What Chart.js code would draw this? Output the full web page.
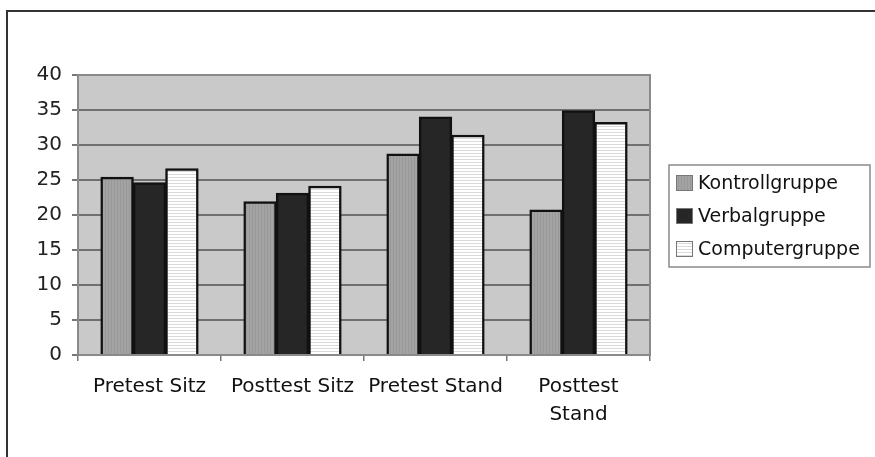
<!DOCTYPE html>
<html>
<head>
<meta charset="utf-8">
<script src="https://cdn.jsdelivr.net/npm/chart.js"></script>
<style>
  html, body { margin: 0; padding: 0; background: #fff; }
  #wrap { width: 875px; height: 457px; }
</style>
</head>
<body>
<div id="wrap"><canvas id="myChart" width="875" height="457"></canvas></div>
<script>
// Data
const categories = ['Pretest Sitz', 'Posttest Sitz', 'Pretest Stand', ['Posttest', 'Stand']];
const kontrollgruppe = [25.4, 21.9, 28.7, 20.7];
const verbalgruppe = [24.6, 23.1, 34.0, 34.9];
const computergruppe = [26.6, 24.1, 31.4, 33.2];
const yTicks = [0, 5, 10, 15, 20, 25, 30, 35, 40];

const FONT = "'DejaVu Sans', sans-serif";

// fill patterns, like the old grey print
function stripes(base, line, vertical) {
  const c = document.createElement('canvas');
  c.width = 3; c.height = 3;
  const g = c.getContext('2d');
  g.fillStyle = base;
  g.fillRect(0, 0, 3, 3);
  g.fillStyle = line;
  if (vertical) g.fillRect(0, 0, 1, 3);
  else g.fillRect(0, 0, 3, 1);
  return g.createPattern(c, 'repeat');
}
const greyFill = stripes('#a3a3a3', '#999999', true);
const darkFill = '#262626';
const lightFill = stripes('#ffffff', '#dadada', false);

const fills = [greyFill, darkFill, lightFill];

// plot background, frame lines and the boxed legend
const decor = {
  id: 'decor',
  beforeDraw(chart) {
    const { ctx, chartArea: a } = chart;
    ctx.save();
    ctx.fillStyle = '#c9c9c9';
    ctx.fillRect(a.left, a.top, a.right - a.left, a.bottom - a.top);
    ctx.restore();
  },
  afterDatasetsDraw(chart) {
    const { ctx, chartArea: a } = chart;
    ctx.save();
    ctx.strokeStyle = '#8a8a8a';
    ctx.lineWidth = 2;
    ctx.strokeRect(a.left, a.top, a.right - a.left, a.bottom - a.top);
    ctx.restore();
  },
  afterDraw(chart) {
    const ctx = chart.ctx;
    ctx.save();
    // outer frame (top and left only)
    ctx.strokeStyle = '#333';
    ctx.lineWidth = 2;
    ctx.beginPath();
    ctx.moveTo(875, 11);
    ctx.lineTo(7, 11);
    ctx.lineTo(7, 457);
    ctx.stroke();

    // legend
    ctx.strokeStyle = '#8a8a8a';
    ctx.lineWidth = 1.5;
    ctx.strokeRect(669, 165, 201, 102);
    ctx.font = '19px ' + FONT;
    ctx.textBaseline = 'middle';
    ctx.textAlign = 'left';
    const ys = [183, 216, 249];
    chart.data.datasets.forEach((ds, i) => {
      ctx.fillStyle = ds.backgroundColor;
      ctx.fillRect(676, ys[i] - 8, 17, 16);
      ctx.strokeStyle = '#777';
      ctx.lineWidth = 1;
      ctx.strokeRect(676.5, ys[i] - 7.5, 16, 15);
      ctx.fillStyle = '#111';
      ctx.fillText(ds.label, 698, ys[i] + 1);
    });
    ctx.restore();
  }
};

const data = {
  labels: categories,
  datasets: [
    { label: 'Kontrollgruppe', data: kontrollgruppe },
    { label: 'Verbalgruppe', data: verbalgruppe },
    { label: 'Computergruppe', data: computergruppe }
  ].map((d, i) => Object.assign(d, {
    backgroundColor: fills[i],
    borderColor: '#111',
    borderWidth: 2.5,
    borderSkipped: 'bottom',
    inflateAmount: 0.5,
    categoryPercentage: 0.68,
    barPercentage: 1
  }))
};

const config = {
  type: 'bar',
  data: data,
  options: {
    responsive: false,
    animation: false,
    devicePixelRatio: 1,
    layout: { padding: { top: 75, right: 225, bottom: 0, left: 0 } },
    plugins: {
      legend: { display: false },
      tooltip: { enabled: false }
    },
    scales: {
      x: {
        grid: {
          offset: true,
          drawOnChartArea: false,
          tickLength: 6,
          color: '#777',
          lineWidth: 1.5
        },
        border: { display: false },
        ticks: {
          color: '#111',
          font: { family: FONT, size: 20, lineHeight: 1.4 },
          padding: 12,
          maxRotation: 0,
          autoSkip: false
        },
        afterFit(scale) { scale.height = 102; }
      },
      y: {
        min: 0,
        max: 40,
        afterBuildTicks(scale) { scale.ticks = yTicks.map(v => ({ value: v })); },
        grid: {
          color: '#707070',
          lineWidth: 2,
          tickLength: 6,
          tickColor: '#777'
        },
        border: { display: false },
        ticks: {
          color: '#222',
          font: { family: FONT, size: 20 },
          padding: 10
        },
        afterFit(scale) { scale.width = 78; }
      }
    }
  },
  plugins: [decor]
};

const myChart = new Chart(document.getElementById('myChart'), config);
</script>
</body>
</html>
